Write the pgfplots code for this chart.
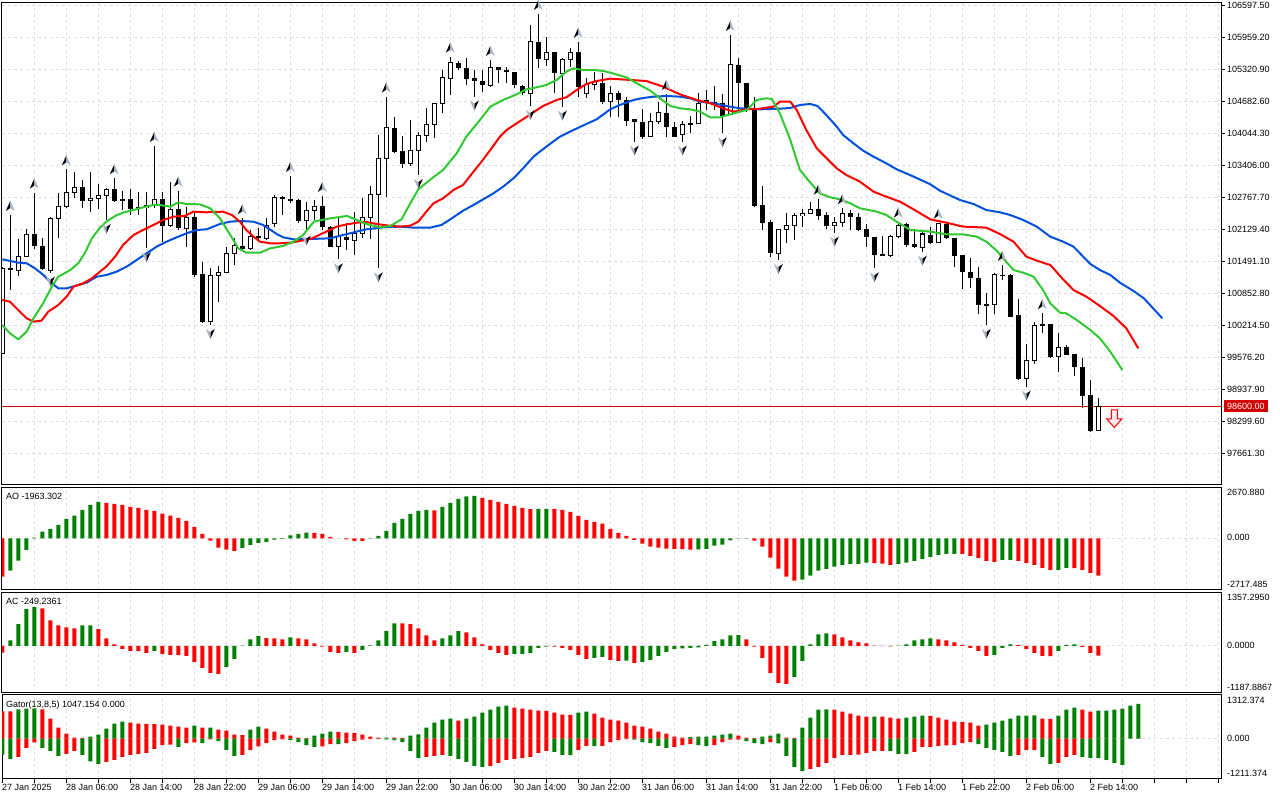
\documentclass[border=0pt]{standalone}
\usepackage{fontspec}
\setmainfont{Liberation Sans}
\usepackage{pgfplots}
\pgfplotsset{compat=1.18}
\usepackage{pgfplotstable}
\definecolor{mtgreen}{RGB}{0,128,0}
\definecolor{mtred}{RGB}{255,0,0}
\definecolor{jawc}{RGB}{0,80,220}
\definecolor{teethc}{RGB}{255,0,0}
\definecolor{lipsc}{RGB}{50,200,50}
\definecolor{gridc}{RGB}{222,222,222}
\definecolor{pricered}{RGB}{210,0,0}
\definecolor{fracgray}{RGB}{170,180,195}

\pgfdeclareplotmark{fup}{%
 \pgfpathmoveto{\pgfqpoint{0pt}{5pt}}\pgfpathlineto{\pgfqpoint{0pt}{-2pt}}\pgfpathlineto{\pgfqpoint{-4.5pt}{-5pt}}\pgfpathclose
 \pgfsetfillcolor{black}\pgfusepathqfill
 \pgfpathmoveto{\pgfqpoint{0pt}{5pt}}\pgfpathlineto{\pgfqpoint{4.5pt}{-5pt}}\pgfpathlineto{\pgfqpoint{0pt}{-2pt}}\pgfpathclose
 \pgfsetfillcolor{fracgray}\pgfusepathqfill}
\pgfdeclareplotmark{fdown}{%
 \pgfpathmoveto{\pgfqpoint{0pt}{-5pt}}\pgfpathlineto{\pgfqpoint{0pt}{2pt}}\pgfpathlineto{\pgfqpoint{4.5pt}{5pt}}\pgfpathclose
 \pgfsetfillcolor{black}\pgfusepathqfill
 \pgfpathmoveto{\pgfqpoint{0pt}{-5pt}}\pgfpathlineto{\pgfqpoint{-4.5pt}{5pt}}\pgfpathlineto{\pgfqpoint{0pt}{2pt}}\pgfpathclose
 \pgfsetfillcolor{fracgray}\pgfusepathqfill}
\pgfdeclareplotmark{sellarrow}{%
 \pgfpathmoveto{\pgfqpoint{-3pt}{9pt}}\pgfpathlineto{\pgfqpoint{3pt}{9pt}}\pgfpathlineto{\pgfqpoint{3pt}{0pt}}
 \pgfpathlineto{\pgfqpoint{7.5pt}{0pt}}\pgfpathlineto{\pgfqpoint{0pt}{-8.5pt}}\pgfpathlineto{\pgfqpoint{-7.5pt}{0pt}}
 \pgfpathlineto{\pgfqpoint{-3pt}{0pt}}\pgfpathclose\pgfusepathqfillstroke}

\pgfplotstableread{
n o h l c k
0 99657 101387 99643 101354 1
1 101367 102418 100921 101320 0
2 101320 101933 101201 101587 1
3 101587 102132 101573 102032 1
4 102032 102864 101733 101806 0
5 101806 101953 101320 101334 0
6 101307 102385 101267 102352 1
7 102352 102851 101953 102585 1
8 102585 103330 102552 102871 1
9 102871 103284 102751 102971 1
10 102971 103117 102552 102705 0
11 102705 103284 102485 102751 1
12 102751 103031 102532 102804 1
13 102811 102951 102319 102931 1
14 102931 103151 102685 102705 0
15 102731 102904 102518 102698 0
16 102731 102938 102418 102538 0
17 102585 102884 102418 102558 0
18 102565 102884 101753 102605 1
19 102605 103796 102552 102731 1
20 102731 102871 101886 102206 0
21 102206 103071 102172 102532 1
22 102532 102904 102119 102152 0
23 102152 102585 101773 102372 1
24 102372 102485 101187 101221 0
25 101234 101487 100256 100289 0
26 100289 101367 100222 101214 1
27 101214 101400 100688 101267 1
28 101267 101786 101267 101640 1
29 101640 101966 101420 101806 1
30 101806 102352 101720 101733 0
31 101753 102119 101720 101986 1
32 101999 102152 101919 101953 0
33 101953 102352 101919 102206 1
34 102252 102818 102186 102771 1
35 102771 102798 102418 102731 0
36 102738 103197 102651 102705 0
37 102718 102738 102265 102305 0
38 102305 102685 102086 102505 1
39 102505 102718 102319 102585 1
40 102598 102798 102119 102172 0
41 102186 102199 101773 101786 0
42 101786 102352 101533 101986 1
43 101986 102265 101720 101919 0
44 101919 102485 101620 102052 1
45 102052 102751 101953 102372 1
46 102372 102997 101933 102818 1
47 102818 104016 101354 103550 1
48 103550 104781 102784 104169 1
49 104149 104368 103650 103670 0
50 103696 103996 103350 103437 0
51 103437 104315 103397 103703 1
52 103703 104082 103217 103996 1
53 103996 104548 103883 104229 1
54 104229 104648 103949 104648 1
55 104648 105313 104462 105167 1
56 105147 105580 104814 105460 1
57 105460 105493 105313 105347 0
58 105347 105546 105014 105134 0
59 105154 105313 104781 105087 0
60 105094 105313 104881 105007 0
61 105007 105513 104981 105367 1
62 105367 105367 105061 105313 0
63 105313 105380 105047 105267 0
64 105280 105280 104947 105007 0
65 104994 105014 104814 104861 0
66 104848 106212 104595 105879 1
67 105879 106431 105347 105526 0
68 105526 105979 105393 105666 1
69 105666 105666 104848 105247 0
70 105247 105546 104581 105526 1
71 105526 105746 105380 105666 1
72 105666 105879 104781 104967 0
73 104848 105147 104748 105014 1
74 105014 105280 104914 105081 1
75 105047 105247 104635 104681 0
76 104681 104994 104368 104848 1
77 104848 104894 104368 104715 0
78 104715 104768 104195 104302 0
79 104329 104329 103883 104282 0
80 104282 104528 103929 103982 0
81 103982 104448 103969 104282 1
82 104282 104681 104235 104462 1
83 104462 104834 103982 104169 0
84 104182 104282 103969 103982 0
85 104016 104302 103883 104229 1
86 104229 104395 104049 104249 1
87 104249 104848 104235 104648 1
88 104715 104914 104515 104648 0
89 104675 104994 104515 104648 0
90 104648 104834 104049 104395 0
91 104415 106012 104415 105413 1
92 105413 105546 104448 105047 0
93 105061 105061 104482 104515 0
94 104515 104781 102572 102598 0
95 102618 102997 102119 102265 0
96 102285 102319 101573 101653 0
97 101653 102119 101520 102119 1
98 102119 102452 101866 102212 1
99 102212 102465 101919 102399 1
100 102399 102532 102186 102452 1
101 102452 102685 102438 102532 1
102 102532 102745 102319 102399 0
103 102418 102485 102132 102199 0
104 102212 102385 102066 102272 1
105 102272 102552 102186 102452 1
106 102452 102518 102119 102372 0
107 102372 102452 102106 102119 0
108 102132 102239 101786 101973 0
109 101973 101973 101354 101620 0
110 101640 101999 101600 101600 0
111 101600 102019 101587 101999 1
112 101999 102285 101953 102199 1
113 102239 102265 101773 101820 0
114 101833 102132 101753 101773 0
115 101773 102119 101686 102039 1
116 102019 102186 101833 101853 0
117 101866 102265 101853 102239 1
118 102239 102252 101933 101953 0
119 101953 101953 101387 101600 0
120 101620 101620 100935 101287 0
121 101287 101553 100954 101154 0
122 101154 101387 100442 100622 0
123 100635 100855 100222 100602 0
124 100622 101254 100442 101221 1
125 101227 101420 101121 101201 0
126 101221 101241 100375 100389 0
127 100422 100735 99124 99138 0
128 99158 99843 98991 99504 1
129 99504 100289 99444 100222 1
130 100242 100455 100056 100216 0
131 100242 100242 99557 99577 0
132 99603 100069 99291 99776 1
133 99776 99823 99623 99623 0
134 99643 99643 99204 99377 0
135 99390 99557 98559 98805 0
136 98825 99124 98093 98113 0
137 98113 98758 98113 98600 1
}\candles

\pgfplotstableread{
n v
0 101533
2 101467
3.04 101454
4.08 101354
5.13 101221
5.96 101088
7 100954
8.04 100954
9.08 101001
10.54 101068
11.79 101187
13.04 101221
14.29 101287
15.54 101387
16.79 101520
18.04 101653
19.29 101786
20.54 101886
21.79 101973
23.04 102052
24.29 102119
25.54 102132
27.2 102239
28.46 102285
29.7 102299
31.4 102285
32.6 102219
34.3 102039
35.1 101973
36.4 101933
38.7 101940
41 101953
42.6 102019
44.3 102086
45.5 102132
47.6 102172
49.7 102186
51.4 102166
53.5 102166
54.9 102219
56 102332
57.6 102505
58.9 102618
60.1 102731
61.4 102851
62.6 102984
63.9 103151
65.1 103350
66.4 103583
68 103783
69.7 103982
71.4 104116
73 104235
74.3 104329
76 104530
77.2 104615
78.9 104715
80.1 104754
81.4 104781
83 104794
84.7 104781
86 104748
87.2 104681
88.9 104648
90.5 104595
92.2 104548
94.7 104528
97.2 104541
98.5 104555
99.7 104615
101 104635
101.9 104595
103 104415
104.3 104182
105.1 104016
106.4 103849
107.6 103703
108.9 103583
110.5 103450
111.8 103330
113.7 103200
116 103031
117.2 102904
119.7 102718
121.4 102638
123 102518
124.7 102472
126 102418
127.6 102319
129.3 102186
131 101986
132.6 101886
133.9 101786
136 101440
137.2 101320
138.5 101221
139.7 101068
141.4 100901
142.7 100755
145 100356
}\jaw

\pgfplotstableread{
n v
0 100722
0.96 100688
2 100522
3.04 100356
3.9 100289
4.9 100309
5.75 100489
7 100622
8.04 100788
8.9 100988
10.1 101054
11.2 101154
12.2 101287
13 101387
14.1 101587
15.1 101820
16.4 102019
17.6 102119
18.9 102219
20.1 102319
21.4 102385
22.8 102399
23.9 102485
25.5 102472
27.6 102485
28.7 102418
29.7 102285
30.5 102119
31.4 101986
32.2 101886
33.5 101853
34.7 101853
36 101866
37.2 101899
38.7 101950
40.5 102086
41.8 102186
43.1 102232
44.3 102265
45.5 102279
46.8 102239
48 102212
49.7 102186
51 102206
52 102285
53 102485
53.9 102651
55.1 102751
56.4 102918
57.6 103018
58.9 103284
59.9 103483
61 103716
62.2 103982
63.05 104116
64.3 104249
65.9 104415
67.6 104595
69.3 104715
70.5 104768
71.8 104914
73 105034
74.3 105094
76 105140
78.5 105114
80.5 105094
82.6 104981
84.7 104828
86.8 104715
88.5 104648
90.1 104548
91.4 104482
93.05 104528
94.7 104541
96.4 104581
97.2 104681
98.5 104681
99.3 104515
100.5 104116
101.8 103750
103.05 103550
104.3 103350
105.5 103217
107.2 103084
108.9 102884
110.5 102784
112.2 102685
113.7 102550
116 102332
118 102265
120.1 102186
123 102166
124.7 102039
126.4 101886
128 101587
129.3 101507
131 101420
132.6 101134
133.9 100921
135.5 100788
137.2 100602
138.9 100402
140.5 100156
142 99757
}\teeth

\pgfplotstableread{
n v
0 100222
0.96 100056
2 99936
3.04 100089
3.9 100356
5.1 100655
6.2 100988
7 101187
8.5 101320
9.5 101454
10.3 101653
11.2 101953
12.2 102166
13 102285
14.1 102399
15.1 102465
16.4 102518
17.6 102572
18.9 102618
19.7 102618
21 102585
22 102671
23 102638
24.7 102631
26 102552
27.2 102352
28.5 102019
29.5 101753
30.5 101666
32.2 101666
33.5 101753
35.1 101800
36.4 101886
37.6 102019
38.5 102199
39 102290
41 102352
43.1 102399
44.3 102319
45.5 102239
47.2 102172
48.5 102199
49.9 102332
51 102651
52 102931
53.7 103151
55.1 103317
56.8 103650
58 103982
59.7 104315
61 104581
62.6 104715
64.3 104828
65.5 104927
66.8 104967
68 105014
69.3 105114
70.5 105280
71.4 105347
72.6 105313
73.9 105313
75.1 105294
76 105260
78 105167
79.7 105014
81 104901
82.2 104748
83.5 104595
84.7 104548
86 104528
87.2 104482
88.5 104368
89.7 104368
91.4 104448
93.05 104515
94.3 104715
95.5 104748
96.2 104735
97.2 104448
98.5 103916
99.7 103317
101 103064
102.2 102851
103.5 102771
104.7 102731
106 102651
107.2 102552
109.3 102485
110.5 102418
111.8 102285
113.5 102119
116 102086
118 102032
120.1 102032
121.8 101986
123 101886
124.3 101706
125.1 101553
126.4 101320
127.6 101267
128.9 101187
130.1 100921
131 100655
132.2 100469
133 100455
134.3 100322
136 100123
137.2 99956
138.5 99690
140 99324
}\lips

\pgfplotstableread{
n v
1 102418
4 102864
8 103330
14 103151
19 103796
22 102904
30 102352
36 103197
40 102798
48 104781
56 105580
61 105513
67 106431
72 105879
83 104834
91 106012
102 102745
105 102552
112 102285
117 102265
125 101420
130 100455
}\fracup

\pgfplotstableread{
n v
6 101267
13 102319
18 101753
26 100222
38 102086
42 101533
47 101354
52 103217
59 104781
66 104595
70 104581
79 103883
85 103883
90 104049
97 101520
104 102066
109 101354
115 101686
123 100222
128 98991
}\fracdown

\pgfplotstableread{
n v k
0 -2016 0
1 -1700 1
2 -1175 1
3 -614 1
4 30 1
5 351 1
6 491 1
7 701 1
8 1017 1
9 1192 1
10 1490 1
11 1753 1
12 1911 1
13 1858 0
14 1806 0
15 1753 0
16 1648 0
17 1595 0
18 1490 0
19 1437 0
20 1297 0
21 1192 0
22 1069 0
23 912 0
24 596 0
25 228 0
26 -123 0
27 -491 0
28 -596 0
29 -666 0
30 -508 1
31 -351 1
32 -245 1
33 -193 1
34 -70 1
35 -35 1
36 158 1
37 228 1
38 300 1
39 290 0
40 228 0
41 70 0
42 -10 0
43 -50 0
44 -130 0
45 -140 0
46 -20 1
47 123 1
48 386 1
49 806 1
50 1017 1
51 1280 1
52 1437 1
53 1490 1
54 1470 0
55 1648 1
56 1858 1
57 2069 1
58 2200 1
59 2226 1
60 2121 0
61 2016 0
62 1911 0
63 1806 0
64 1700 0
65 1595 0
66 1540 0
67 1545 1
68 1550 1
69 1545 0
70 1490 0
71 1385 0
72 1174 0
73 964 0
74 859 0
75 771 0
76 491 0
77 280 0
78 123 0
79 -88 0
80 -280 0
81 -438 0
82 -491 0
83 -543 0
84 -550 0
85 -570 0
86 -596 0
87 -578 1
88 -561 1
89 -386 1
90 -333 1
91 -105 1
92 -18 1
93 10 1
94 -123 0
95 -438 0
96 -1017 0
97 -1595 0
98 -2016 0
99 -2226 0
100 -2174 1
101 -1963 1
102 -1700 1
103 -1612 1
104 -1490 1
105 -1402 1
106 -1350 1
107 -1340 1
108 -1280 1
109 -1310 0
110 -1332 0
111 -1402 0
112 -1350 1
113 -1280 1
114 -1192 1
115 -1087 1
116 -982 1
117 -877 1
118 -824 1
119 -815 1
120 -824 0
121 -929 0
122 -1034 0
123 -1192 0
124 -1245 0
125 -1139 1
126 -1130 1
127 -1192 0
128 -1297 0
129 -1402 0
130 -1560 0
131 -1665 0
132 -1655 1
133 -1560 1
134 -1570 0
135 -1665 0
136 -1823 0
137 -1963 0
}\ao

\pgfplotstableread{
n v k
0 -169 0
1 144 1
2 551 1
3 932 1
4 983 1
5 957 0
6 652 0
7 525 0
8 474 0
9 449 0
10 520 1
11 525 1
12 424 0
13 195 0
14 42 0
15 -76 0
16 -127 0
17 -130 0
18 -178 0
19 -127 1
20 -203 0
21 -229 0
22 -235 0
23 -254 0
24 -407 0
25 -559 0
26 -686 0
27 -711 0
28 -534 1
29 -330 1
30 10 1
31 169 1
32 246 1
33 200 0
34 195 0
35 169 0
36 220 1
37 195 0
38 169 0
39 68 0
40 -17 0
41 -152 0
42 -178 0
43 -152 1
44 -178 0
45 -102 1
46 17 1
47 144 1
48 373 1
49 576 1
50 570 0
51 551 0
52 449 0
53 271 0
54 144 0
55 195 1
56 271 1
57 373 1
58 347 0
59 220 0
60 42 0
61 -102 0
62 -178 0
63 -229 0
64 -203 1
65 -200 1
66 -178 1
67 -51 1
68 -17 1
69 -20 0
70 -51 0
71 -102 0
72 -229 0
73 -330 0
74 -305 1
75 -280 1
76 -356 0
77 -381 0
78 -375 1
79 -432 0
80 -407 1
81 -356 1
82 -254 1
83 -152 1
84 -76 1
85 -60 1
86 -51 1
87 -34 1
88 25 1
89 119 1
90 169 1
91 271 1
92 275 1
93 169 0
94 -17 0
95 -305 0
96 -686 0
97 -940 0
98 -966 0
99 -788 1
100 -381 1
101 42 1
102 296 1
103 322 1
104 296 0
105 220 0
106 144 0
107 93 0
108 68 0
109 8 0
110 -3 0
111 -10 0
112 5 1
113 42 1
114 144 1
115 169 1
116 195 1
117 169 0
118 144 0
119 93 0
120 25 0
121 -51 0
122 -127 0
123 -254 0
124 -229 1
125 -51 1
126 42 1
127 25 0
128 -76 0
129 -178 0
130 -254 0
131 -260 0
132 -127 1
133 25 1
134 42 1
135 -25 0
136 -178 0
137 -249 0
}\ac

\pgfplotstableread{
n u uk d dk
0 820 0 -480 1
1 820 0 -610 1
2 880 1 -550 0
3 900 1 -280 0
4 910 1 -110 0
5 880 0 -280 1
6 600 0 -370 1
7 330 0 -520 1
8 150 0 -460 0
9 30 0 -370 0
10 25 0 -490 1
11 60 1 -680 1
12 120 1 -760 1
13 300 1 -700 0
14 450 1 -640 0
15 510 1 -550 0
16 480 0 -490 0
17 450 0 -460 0
18 445 0 -430 0
19 440 0 -310 0
20 420 0 -190 0
21 390 0 -180 0
22 360 0 -250 1
23 330 0 -130 0
24 390 1 -110 0
25 330 0 -130 1
26 335 1 -20 0
27 270 0 -70 1
28 240 0 -340 1
29 120 0 -520 1
30 110 0 -490 0
31 270 1 -340 0
32 360 1 -230 0
33 300 0 -130 0
34 210 0 -40 0
35 120 0 -20 0
36 90 0 -40 1
37 30 0 -100 1
38 20 0 -190 1
39 90 1 -250 1
40 150 1 -230 0
41 210 1 -160 0
42 205 0 -165 1
43 180 0 -130 0
44 175 0 -70 0
45 120 0 -30 0
46 60 0 -10 0
47 30 0 -15 1
48 35 1 -20 1
49 30 0 -40 1
50 25 0 -100 1
51 90 1 -370 1
52 130 1 -580 1
53 330 1 -550 0
54 480 1 -520 0
55 570 1 -490 0
56 600 1 -520 1
57 540 0 -610 1
58 600 1 -700 1
59 660 1 -820 1
60 780 1 -850 1
61 870 1 -820 0
62 960 1 -730 0
63 990 1 -640 0
64 930 0 -610 0
65 900 0 -580 0
66 870 0 -550 0
67 840 0 -430 0
68 835 0 -370 0
69 780 0 -400 1
70 720 0 -490 1
71 715 0 -495 1
72 780 1 -340 0
73 810 1 -220 0
74 750 0 -225 1
75 630 0 -220 0
76 570 0 -100 0
77 540 0 -40 0
78 480 0 -10 0
79 390 0 -30 1
80 360 0 -100 1
81 300 0 -130 1
82 210 0 -220 1
83 150 0 -280 1
84 60 0 -250 0
85 30 0 -190 0
86 50 1 -160 0
87 60 1 -190 1
88 65 1 -220 1
89 90 1 -190 0
90 120 1 -100 0
91 150 1 -30 0
92 90 0 -25 0
93 30 0 -70 1
94 20 0 -130 1
95 60 1 -160 1
96 90 1 -100 0
97 150 1 -140 1
98 30 0 -520 1
99 25 0 -850 1
100 330 1 -970 1
101 630 1 -910 0
102 870 1 -850 0
103 880 1 -730 0
104 870 0 -580 0
105 810 0 -490 0
106 750 0 -485 0
107 690 0 -480 0
108 660 0 -430 0
109 665 1 -370 0
110 660 0 -365 0
111 630 0 -370 1
112 600 0 -460 1
113 630 1 -465 1
114 660 1 -400 0
115 690 1 -250 0
116 685 0 -245 0
117 630 0 -220 0
118 570 0 -200 0
119 510 0 -190 0
120 505 0 -130 0
121 480 0 -100 0
122 390 0 -160 1
123 420 1 -280 1
124 480 1 -340 1
125 540 1 -400 1
126 600 1 -520 1
127 690 1 -490 0
128 695 1 -340 0
129 700 1 -335 0
130 600 0 -550 1
131 595 0 -760 1
132 690 1 -730 0
133 870 1 -550 0
134 930 1 -490 0
135 870 0 -550 1
136 810 0 -580 1
137 840 1 -585 1
138 845 1 -640 1
139 870 1 -730 1
140 900 1 -790 1
141 990 1 0 1
142 1047 1 0 1
}\gator

\begin{document}
\begin{tikzpicture}
\pgfplotsset{
  isone/.style={restrict expr to domain={\thisrow{#1}}{0.5:1.5}},
  iszero/.style={restrict expr to domain={\thisrow{#1}}{-0.5:0.5}},
  base/.style={scale only axis, width=1220pt, xmin=-0.0375, xmax=152.46,
    axis line style={line width=1pt, black}, clip mode=individual,
    grid style={draw=gridc, line width=1pt, dash pattern=on 3pt off 3pt},
    minor grid style={draw=gridc, line width=1pt, dash pattern=on 3pt off 3pt},
    tick label style={font=\fontsize{9}{10.8}\selectfont},
    scaled ticks=false},
  nox/.style={xtick={4,8,...,152}, xticklabels={}, xmajorgrids, xtick style={draw=none}},
  suby/.style={ytick={0}, yticklabels={}, ymajorgrids, ytick style={draw=none}},
  hbar/.style={ybar, bar width=4pt, bar shift=0pt, draw=none},
}
\tikzset{lab/.style={anchor=west, inner sep=0pt, font=\fontsize{9}{10.8}\selectfont}}

% ---------------- main price panel
\begin{axis}[base, nox, at={(2pt,315pt)}, anchor=south west, height=482.5pt,
  ymin=97028, ymax=106661,
  ytick={97661.3,98299.6,98937.9,99576.2,100214.5,100852.8,101491.1,102129.4,102767.7,103406.0,104044.3,104682.6,105320.9,105959.2,106597.5},
  yticklabels={97661.30,98299.60,98937.90,99576.20,100214.50,100852.80,101491.10,102129.40,102767.70,103406.00,104044.30,104682.60,105320.90,105959.20,106597.50},
  ytick pos=right, yticklabel pos=right, ymajorgrids, tick align=outside,
  ytick style={black, line width=1pt}, major tick length=3pt,
  yticklabel style={anchor=west, inner sep=0pt, xshift=2pt}]
\addplot[forget plot, color=pricered, line width=1pt] coordinates {(-1,98600) (154,98600)};
\addplot[forget plot, draw=none, mark=none, error bars/.cd, y dir=both, y explicit, error mark=none,
  error bar style={draw=black, line width=1pt}]
  table[x=n, y expr={0.5*(\thisrow{h}+\thisrow{l})}, y error expr={0.5*(\thisrow{h}-\thisrow{l})}] {\candles};
\addplot[forget plot, draw=none, mark=none, iszero=k, error bars/.cd, y dir=both, y explicit, error mark=none,
  error bar style={draw=black, line width=5pt}]
  table[x=n, y expr={0.5*(\thisrow{o}+\thisrow{c})}, y error expr={max(0.5*abs(\thisrow{o}-\thisrow{c}),10)}] {\candles};
\addplot[forget plot, draw=none, mark=none, isone=k, error bars/.cd, y dir=both, y explicit, error mark=none,
  error bar style={draw=black, line width=5pt}]
  table[x=n, y expr={0.5*(\thisrow{o}+\thisrow{c})}, y error expr={0.5*abs(\thisrow{o}-\thisrow{c})+10}] {\candles};
\addplot[forget plot, draw=none, mark=none, isone=k, error bars/.cd, y dir=both, y explicit, error mark=none,
  error bar style={draw=white, line width=3pt}]
  table[x=n, y expr={0.5*(\thisrow{o}+\thisrow{c})}, y error expr={max(0.5*abs(\thisrow{o}-\thisrow{c})-10,0)}] {\candles};
\addplot[jawc, line width=2pt, line join=round] table[x=n,y=v] {\jaw};
\addplot[teethc, line width=2pt, line join=round] table[x=n,y=v] {\teeth};
\addplot[lipsc, line width=2pt, line join=round] table[x=n,y=v] {\lips};
\addplot[only marks, mark=fup, mark options={yshift=9pt}] table[x=n,y=v] {\fracup};
\addplot[only marks, mark=fdown, mark options={yshift=-9pt}] table[x=n,y=v] {\fracdown};
\addplot[only marks, mark=sellarrow, mark options={draw=red, fill=red!8, line width=1pt}] coordinates {(139,98346)};
\end{axis}
\node[anchor=west, fill=pricered, text=white, inner xsep=3.5pt, inner ysep=2.8pt, text height=6.5pt, text depth=0pt,
  font=\fontsize{9}{10.8}\selectfont] at (1223.5pt,394pt) {98600.00};

% ---------------- AO
\begin{axis}[base, nox, suby, at={(2pt,210pt)}, anchor=south west, height=102.5pt,
  ymin=-2717.485, ymax=2670.88]
\addplot[hbar, fill=mtgreen, isone=k] table[x=n,y=v] {\ao};
\addplot[hbar, fill=mtred, iszero=k] table[x=n,y=v] {\ao};
\end{axis}
\node[lab] at (6pt,303.3pt) {AO -1963.302};
\node[lab] at (1227pt,307.3pt) {2670.880};
\node[lab] at (1227pt,262.3pt) {0.000};
\node[lab] at (1227pt,215.3pt) {-2717.485};

% ---------------- AC
\begin{axis}[base, nox, suby, at={(2pt,107.3pt)}, anchor=south west, height=100.2pt,
  ymin=-1187.8867, ymax=1357.295]
\addplot[hbar, fill=mtgreen, isone=k] table[x=n,y=v] {\ac};
\addplot[hbar, fill=mtred, iszero=k] table[x=n,y=v] {\ac};
\end{axis}
\node[lab] at (6pt,198.3pt) {AC -249.2361};
\node[lab] at (1227pt,202.3pt) {1357.2950};
\node[lab] at (1227pt,154.3pt) {0.0000};
\node[lab] at (1227pt,112.3pt) {-1187.8867};

% ---------------- Gator
\begin{axis}[base, suby, at={(2pt,21pt)}, anchor=south west, height=84pt,
  ymin=-1211.374, ymax=1312.374,
  xtick={0,8,...,136},
  xticklabels={27 Jan 2025, 28 Jan 06:00, 28 Jan 14:00, 28 Jan 22:00, 29 Jan 06:00, 29 Jan 14:00, 29 Jan 22:00, 30 Jan 06:00, 30 Jan 14:00, 30 Jan 22:00, 31 Jan 06:00, 31 Jan 14:00, 31 Jan 22:00, 1 Feb 06:00, 1 Feb 14:00, 1 Feb 22:00, 2 Feb 06:00, 2 Feb 14:00},
  minor xtick={4,12,...,148,144,152},
  xmajorgrids, xminorgrids, xtick pos=left, tick align=outside,
  major tick length=4pt, minor tick length=4pt,
  xtick style={black, line width=1pt},
  xticklabel style={anchor=north west, inner sep=0pt, xshift=-0.5pt, yshift=-1pt}]
\addplot[hbar, fill=mtgreen, isone=uk] table[x=n,y=u] {\gator};
\addplot[hbar, fill=mtred, iszero=uk] table[x=n,y=u] {\gator};
\addplot[hbar, fill=mtgreen, isone=dk] table[x=n,y=d] {\gator};
\addplot[hbar, fill=mtred, iszero=dk] table[x=n,y=d] {\gator};
\end{axis}
\node[lab] at (6pt,95.3pt) {Gator(13,8,5) 1047.154 0.000};
\node[lab] at (1227pt,99.7pt) {1312.374};
\node[lab] at (1227pt,61.3pt) {0.000};
\node[lab] at (1227pt,26.3pt) {-1211.374};

\pgfresetboundingbox
\path[use as bounding box] (0pt,0pt) rectangle (1280pt,800pt);
\end{tikzpicture}
\end{document}
